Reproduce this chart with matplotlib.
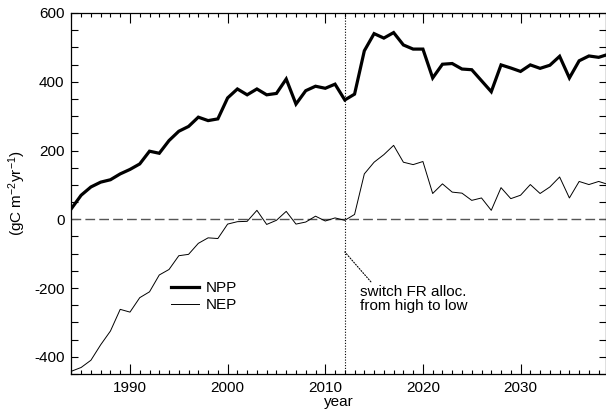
import matplotlib.pyplot as plt
from matplotlib.ticker import MultipleLocator

years = list(range(1984, 2040))

npp = [31, 70, 94, 108, 115, 132, 145, 161, 198, 192,
       229, 256, 270, 297, 287, 292, 353, 379, 362, 379,
       362, 366, 408, 335, 374, 387, 381, 393, 347, 364,
       490, 540, 527, 543, 507, 495, 495, 411, 451, 453,
       437, 435, 403, 371, 449, 440, 430, 449, 439, 448,
       474, 411, 461, 475, 471, 480]

nep = [-442, -431, -410, -365, -325, -262, -270, -228, -211, -162,
       -146, -106, -102, -70, -54, -56, -14, -7, -6, 26,
       -15, -3, 23, -14, -8, 9, -5, 4, -3, 14,
       132, 166, 188, 215, 166, 159, 168, 75, 103, 79,
       76, 55, 62, 26, 92, 60, 70, 101, 75, 94,
       123, 62, 110, 101, 110, 101]

switch_year = 2012

plt.rcParams['font.family'] = ['Liberation Sans', 'DejaVu Sans']
plt.rcParams['mathtext.fontset'] = 'custom'
plt.rcParams['mathtext.rm'] = 'Liberation Sans'
plt.rcParams['mathtext.it'] = 'Liberation Sans'
plt.rcParams['axes.unicode_minus'] = False

fig = plt.figure(figsize=(6.06, 4.15), dpi=100)
ax = fig.add_axes([0.1178, 0.0988, 0.8814, 0.8699])

# zero line and switch year
ax.axhline(0, color='#555555', lw=1.0, ls=(0, (7, 3)))
ax.axvline(switch_year, color='k', lw=0.8, ls=(0, (1, 1.5)))

ax.plot(years, npp, color='k', lw=2.3, label='NPP', solid_joinstyle='miter')
ax.plot(years, nep, color='k', lw=0.7, label='NEP')

ax.set_xlim(1984, 2038.7)
ax.set_ylim(-450, 600)

ax.xaxis.set_major_locator(MultipleLocator(10))
ax.xaxis.set_minor_locator(MultipleLocator(1))
ax.yaxis.set_major_locator(MultipleLocator(200))
ax.yaxis.set_minor_locator(MultipleLocator(50))
ax.tick_params(which='both', direction='in', top=True, right=True,
               labelsize=11, width=0.8, color='k')
ax.tick_params(axis='x', which='major', length=7, pad=5)
ax.tick_params(axis='x', which='minor', length=3)
ax.tick_params(axis='y', which='both', length=5, pad=5)
for s in ax.spines.values():
    s.set_linewidth(0.9)

ax.set_xlabel('year', fontsize=11, labelpad=0)
ax.set_ylabel(r'(gC m$^{-2}$yr$^{-1}$)', fontsize=11, labelpad=4)

ax.annotate('switch FR alloc.\nfrom high to low', xy=(switch_year, -95),
            xytext=(2013.6, -190), ha='left', va='top', fontsize=11,
            linespacing=1.0,
            arrowprops=dict(arrowstyle='-', ls=(0, (1, 1.5)), lw=0.8,
                            relpos=(0.12, 1.0), shrinkA=0, shrinkB=0))

ax.legend(loc='upper left', bbox_to_anchor=(0.1865, 0.258), frameon=False,
          fontsize=11, handlelength=1.8, handletextpad=0.5,
          labelspacing=0.2, borderpad=0, borderaxespad=0)

fig.savefig('out.png', dpi=100)
